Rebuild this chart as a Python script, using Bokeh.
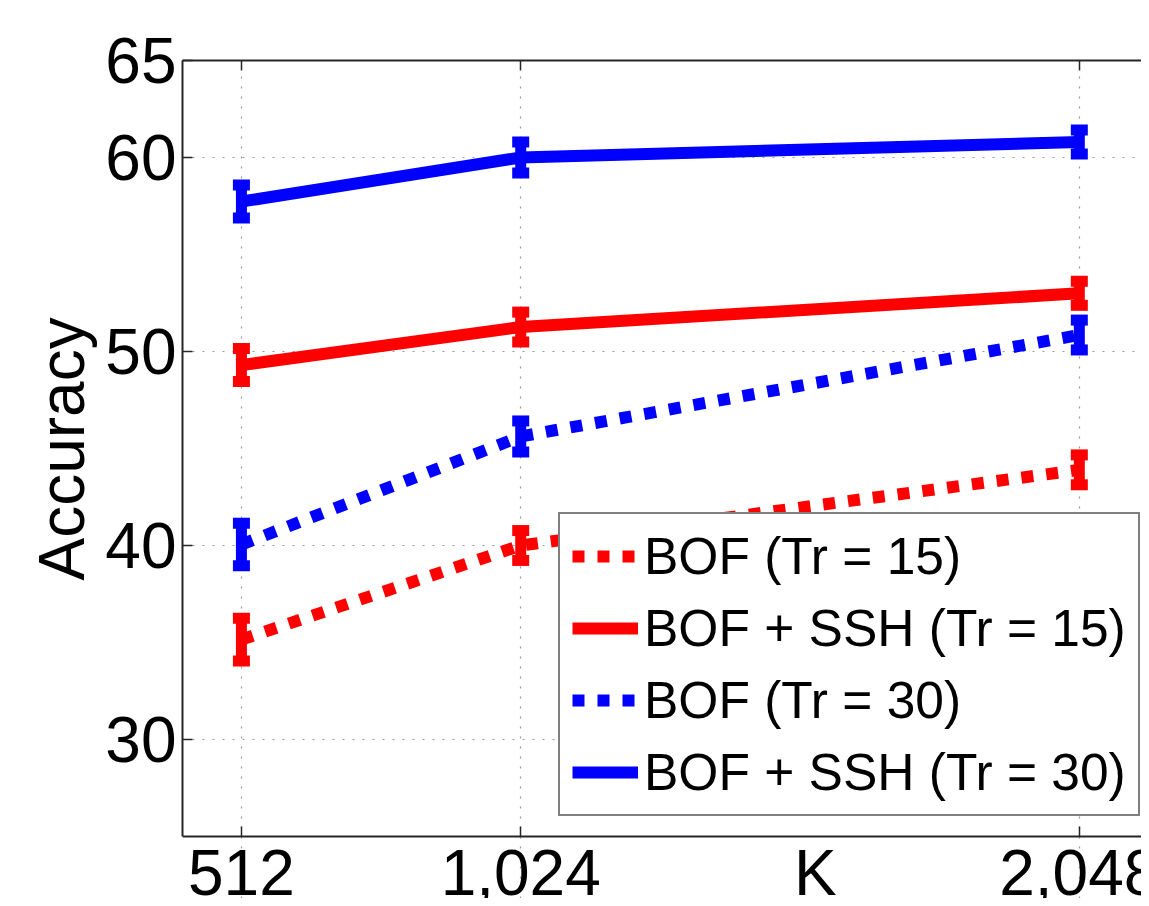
from bokeh.plotting import figure
from bokeh.models import (Range1d, FixedTicker, LinearAxis, Whisker, TeeHead,
                          ColumnDataSource, Legend, LegendItem, Title)
from bokeh.embed import file_html
from bokeh.resources import INLINE

# ---- data ----
k_values = [512, 1024, 2048]
k_labels = ["512", "1,024", "2,048"]
x_title = "K"
x_title_pos = 1564          # where the reference prints "K" in the tick-label row
y_title = "Accuracy"
y_ticks = [30, 40, 50, 60, 65]
y_grid = [30, 40, 50, 60]
y_box = (25, 65)            # the axes box of the reference

bof_15 = [35.15, 40.0, 43.9]
bof_15_err = [1.1, 0.77, 0.77]
ssh_15 = [49.3, 51.26, 53.0]
ssh_15_err = [0.85, 0.77, 0.62]
bof_30 = [40.05, 45.62, 50.85]
bof_30_err = [1.1, 0.8, 0.77]
ssh_30 = [57.73, 60.0, 60.8]
ssh_30_err = [0.85, 0.8, 0.62]

series = [
    ("BOF (Tr = 15)", bof_15, bof_15_err, "#ff0000", "12 13"),
    ("BOF + SSH (Tr = 15)", ssh_15, ssh_15_err, "#ff0000", "solid"),
    ("BOF (Tr = 30)", bof_30, bof_30_err, "#0000ff", "12 13"),
    ("BOF + SSH (Tr = 30)", ssh_30, ssh_30_err, "#0000ff", "solid"),
]

FONT = "Liberation Sans"
AX = "#262626"
TICK_FS = "64px"

W, H = 1141, 898
TOP, LEFT, BOX_BOTTOM = 60, 182, 836
px_per_unit = (BOX_BOTTOM - TOP) / (y_box[1] - y_box[0])
y_start = y_box[0] - (H - BOX_BOTTOM) / px_per_unit   # frame runs to the page bottom

p = figure(width=W, height=H, output_backend="svg", toolbar_location=None,
           x_range=Range1d(404, 2162), y_range=Range1d(y_start, y_box[1]),
           min_border_left=LEFT, min_border_right=0, min_border_top=TOP,
           min_border_bottom=0)
p.outline_line_color = None
p.background_fill_color = "white"
p.border_fill_color = "white"

# bottom axis: line + labels pinned to the box bottom (the "K" title sits in the same row)
xa = p.xaxis[0]
xa.fixed_location = y_box[0]
xa.ticker = FixedTicker(ticks=k_values + [x_title_pos])
overrides = {k: l for k, l in zip(k_values, k_labels)}
overrides[x_title_pos] = x_title
xa.major_label_overrides = overrides
xa.major_label_text_font = FONT
xa.major_label_text_font_size = TICK_FS
xa.major_label_text_color = "black"
xa.major_label_standoff = 0
xa.major_tick_in = 0
xa.major_tick_out = 0
xa.major_tick_line_color = None
xa.minor_tick_line_color = None
xa.axis_line_width = 2
xa.axis_line_color = AX

# inward tick marks on the bottom edge
btick = LinearAxis(fixed_location=y_box[0], ticker=FixedTicker(ticks=k_values),
                   major_label_text_font_size="0px", major_tick_in=10, major_tick_out=0,
                   minor_tick_line_color=None, axis_line_color=None,
                   major_tick_line_color=AX, major_tick_line_width=1.5)
p.add_layout(btick, "below")

# left axis
ya = p.yaxis[0]
ya.bounds = y_box
ya.ticker = FixedTicker(ticks=y_ticks)
ya.major_label_text_font = FONT
ya.major_label_text_font_size = TICK_FS
ya.major_label_text_color = "black"
ya.major_label_standoff = 6
ya.major_tick_in = 10
ya.major_tick_out = 0
ya.minor_tick_line_color = None
ya.axis_line_width = 2
ya.axis_line_color = AX
ya.major_tick_line_color = AX
ya.major_tick_line_width = 1.5

# y-axis title: starts (bottom end) 318 px above the lower edge of the frame
p.add_layout(Title(text=y_title, align="left", offset=318, standoff=9,
                   text_font=FONT, text_font_size=TICK_FS, text_font_style="normal",
                   text_color="black"), "left")

# top axis (box edge with inward ticks)
top = LinearAxis(ticker=FixedTicker(ticks=k_values), major_label_text_font_size="0px",
                 major_tick_in=10, major_tick_out=0, minor_tick_line_color=None,
                 axis_line_width=2, axis_line_color=AX, major_tick_line_color=AX,
                 major_tick_line_width=1.5, major_label_standoff=0)
p.add_layout(top, "above")

# grids (kept inside the box)
p.xgrid.ticker = FixedTicker(ticks=k_values)
p.xgrid.bounds = y_box
p.ygrid.ticker = FixedTicker(ticks=y_grid)
for g in (p.xgrid[0], p.ygrid[0]):
    g.grid_line_color = "#9a9a9a"
    g.grid_line_dash = "2 8"
    g.grid_line_width = 1.2

items = []
for label, vals, errs, color, dash in series:
    src = ColumnDataSource(dict(
        x=k_values, y=vals,
        upper=[v + e for v, e in zip(vals, errs)],
        lower=[v - e for v, e in zip(vals, errs)]))
    r = p.line("x", "y", source=src, line_color=color, line_width=12, line_dash=dash)
    w = Whisker(base="x", upper="upper", lower="lower", source=src, dimension="height",
                line_color=color, line_width=11,
                upper_head=TeeHead(size=17, line_color=color, line_width=11),
                lower_head=TeeHead(size=17, line_color=color, line_width=11))
    p.add_layout(w)
    items.append(LegendItem(label=label, renderers=[r]))

legend = Legend(items=items, location=(376, H - BOX_BOTTOM + 20), margin=0, padding=12,
                spacing=12, glyph_width=66, glyph_height=30, label_standoff=6,
                label_text_font=FONT, label_text_font_size="51.5px", label_text_color="black",
                border_line_color="black", border_line_width=2,
                background_fill_color="white", background_fill_alpha=1.0)
p.add_layout(legend)

open("out.html", "w").write(file_html(p, INLINE))
